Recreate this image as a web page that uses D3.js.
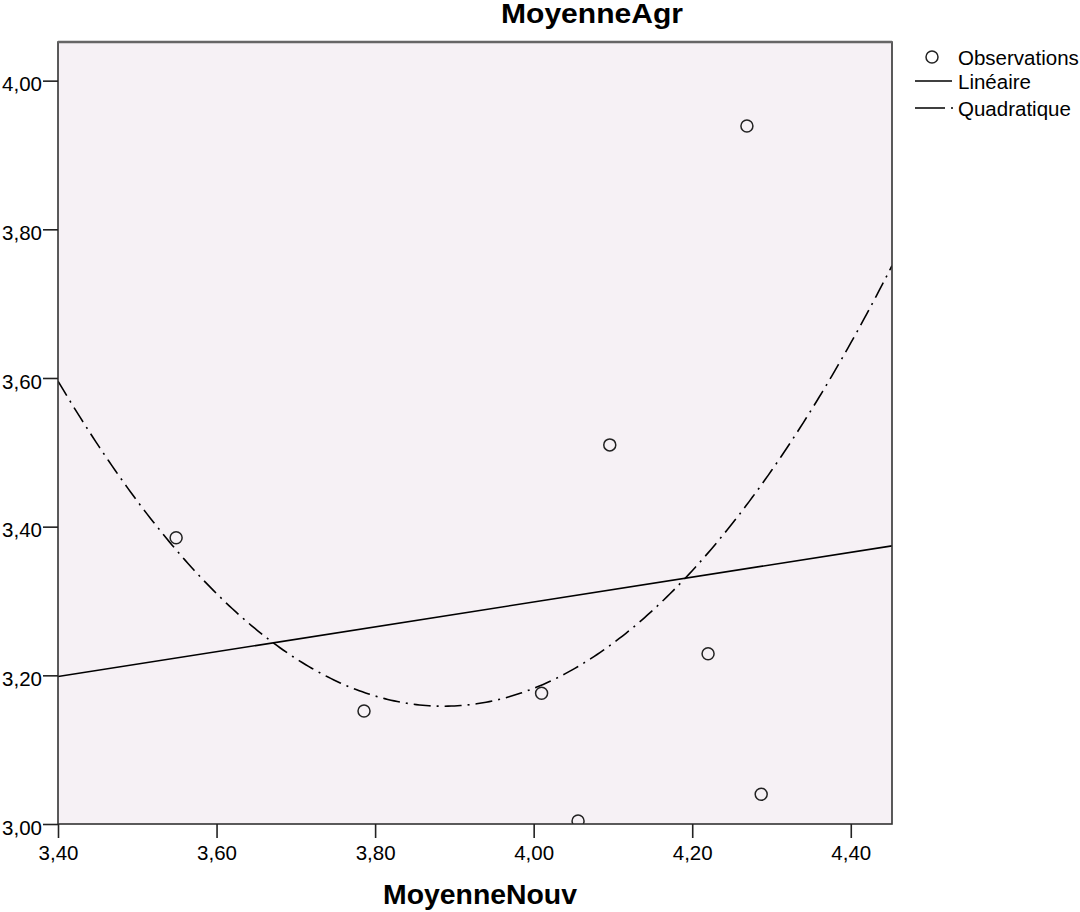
<!DOCTYPE html>
<html>
<head>
<meta charset="utf-8">
<script src="https://cdn.jsdelivr.net/npm/d3@7"></script>
<style>
  body { margin: 0; background: #fff; }
  text { font-family: Arial, "Liberation Sans", sans-serif; fill: #000; }
</style>
</head>
<body>
<svg id="chart" width="1080" height="912"></svg>
<script>
// observations (MoyenneNouv, MoyenneAgr)
var obsX = [3.549, 3.786, 4.010, 4.056, 4.096, 4.220, 4.269, 4.287];
var obsY = [3.385, 3.152, 3.176, 3.004, 3.510, 3.229, 3.939, 3.040];

var xTicks = [3.40, 3.60, 3.80, 4.00, 4.20, 4.40];
var yTicks = [3.00, 3.20, 3.40, 3.60, 3.80, 4.00];

var legendLabels = ["Observations", "Linéaire", "Quadratique"];

var svg = d3.select("#chart");

var plot = { left: 58, top: 42, right: 892, bottom: 824 };

var x = d3.scaleLinear().domain([3.40, 4.452]).range([plot.left, plot.right]);
var y = d3.scaleLinear().domain([3.00, 4.052]).range([plot.bottom, plot.top]);

var fmt = function (v) { return d3.format(".2f")(v).replace(".", ","); };

// least squares fits, linear and quadratic
function fitPoly(xs, ys, deg) {
    var n = deg + 1, A = [], i, j, k;
    for (i = 0; i < n; i++) {
        A.push([]);
        for (j = 0; j <= n; j++) A[i].push(0);
    }
    xs.forEach(function (xv, p) {
        for (i = 0; i < n; i++) {
            for (j = 0; j < n; j++) A[i][j] += Math.pow(xv, i + j);
            A[i][n] += ys[p] * Math.pow(xv, i);
        }
    });
    // gauss elimination
    for (i = 0; i < n; i++) {
        for (k = i + 1; k < n; k++) {
            var f = A[k][i] / A[i][i];
            for (j = i; j <= n; j++) A[k][j] -= f * A[i][j];
        }
    }
    var c = new Array(n);
    for (i = n - 1; i >= 0; i--) {
        var s = A[i][n];
        for (j = i + 1; j < n; j++) s -= A[i][j] * c[j];
        c[i] = s / A[i][i];
    }
    return function (xv) {
        var r = 0;
        for (var m = 0; m < n; m++) r += c[m] * Math.pow(xv, m);
        return r;
    };
}

var lin = fitPoly(obsX, obsY, 1);
var quad = fitPoly(obsX, obsY, 2);

svg.append("defs").append("clipPath").attr("id", "clip")
    .append("rect")
    .attr("x", plot.left).attr("y", plot.top)
    .attr("width", plot.right - plot.left).attr("height", plot.bottom - plot.top);

// background
svg.append("rect")
    .attr("x", plot.left).attr("y", plot.top)
    .attr("width", plot.right - plot.left).attr("height", plot.bottom - plot.top)
    .style("fill", "#f6f1f5");

var g = svg.append("g").attr("clip-path", "url(#clip)");

var xs = d3.range(3.40, 4.4521, 0.004);

g.append("path")
    .datum([3.40, 4.452])
    .attr("d", d3.line().x(function (d) { return x(d); }).y(function (d) { return y(lin(d)); }))
    .style("fill", "none").style("stroke", "#000").style("stroke-width", 1.6);

g.append("path")
    .datum(xs)
    .attr("d", d3.line().x(function (d) { return x(d); }).y(function (d) { return y(quad(d)); }))
    .style("fill", "none").style("stroke", "#000").style("stroke-width", 1.6)
    .style("stroke-dasharray", "17,6,2,6");

g.selectAll("circle.obs")
    .data(obsX)
    .enter().append("circle")
    .attr("class", "obs")
    .attr("cx", function (d) { return x(d); })
    .attr("cy", function (d, i) { return y(obsY[i]); })
    .attr("r", 6)
    .style("fill", "none").style("stroke", "#222").style("stroke-width", 1.5);

// frame
svg.append("rect")
    .attr("x", plot.left).attr("y", plot.top)
    .attr("width", plot.right - plot.left).attr("height", plot.bottom - plot.top)
    .style("fill", "none").style("stroke", "#333").style("stroke-width", 1.6);
svg.append("line")
    .attr("x1", plot.left).attr("x2", plot.right)
    .attr("y1", plot.top).attr("y2", plot.top)
    .style("stroke", "#666").style("stroke-width", 2.5);

// axes
var xAxis = svg.append("g")
    .attr("transform", "translate(0," + plot.bottom + ")")
    .call(d3.axisBottom(x).tickValues(xTicks).tickFormat(fmt).tickSize(14).tickPadding(7));
var yAxis = svg.append("g")
    .attr("transform", "translate(" + plot.left + ",0)")
    .call(d3.axisLeft(y).tickValues(yTicks).tickFormat(fmt).tickSize(15).tickPadding(1));

[xAxis, yAxis].forEach(function (a) {
    a.select(".domain").remove();
    a.selectAll(".tick line").style("stroke", "#222").style("stroke-width", 1.6);
    a.selectAll(".tick text")
        .style("font-size", "20.5px")
        .style("font-family", "Arial, 'Liberation Sans', sans-serif")
        .style("fill", "#000");
});
yAxis.selectAll(".tick text").attr("dy", "0.5em");

// titles
svg.append("text")
    .attr("x", 592).attr("y", 23)
    .attr("text-anchor", "middle")
    .style("font-size", "27px").style("font-weight", "bold")
    .attr("textLength", 182).attr("lengthAdjust", "spacingAndGlyphs")
    .text("MoyenneAgr");

svg.append("text")
    .attr("x", 480).attr("y", 904)
    .attr("text-anchor", "middle")
    .style("font-size", "28px").style("font-weight", "bold")
    .attr("textLength", 194).attr("lengthAdjust", "spacingAndGlyphs")
    .text("MoyenneNouv");

// legend
var legend = svg.append("g");
var ly = [57, 81, 108];

legend.append("circle")
    .attr("cx", 932).attr("cy", ly[0]).attr("r", 6)
    .style("fill", "none").style("stroke", "#222").style("stroke-width", 1.5);
legend.append("line")
    .attr("x1", 915).attr("x2", 952).attr("y1", ly[1]).attr("y2", ly[1])
    .style("stroke", "#000").style("stroke-width", 1.6);
legend.append("line")
    .attr("x1", 915).attr("x2", 954).attr("y1", ly[2]).attr("y2", ly[2])
    .style("stroke", "#000").style("stroke-width", 1.6)
    .style("stroke-dasharray", "30,6,2,6");

legend.selectAll("text")
    .data(legendLabels)
    .enter().append("text")
    .attr("x", 958)
    .attr("y", function (d, i) { return ly[i] + 8; })
    .style("font-size", "20.5px")
    .text(function (d) { return d; });
</script>
</body>
</html>
